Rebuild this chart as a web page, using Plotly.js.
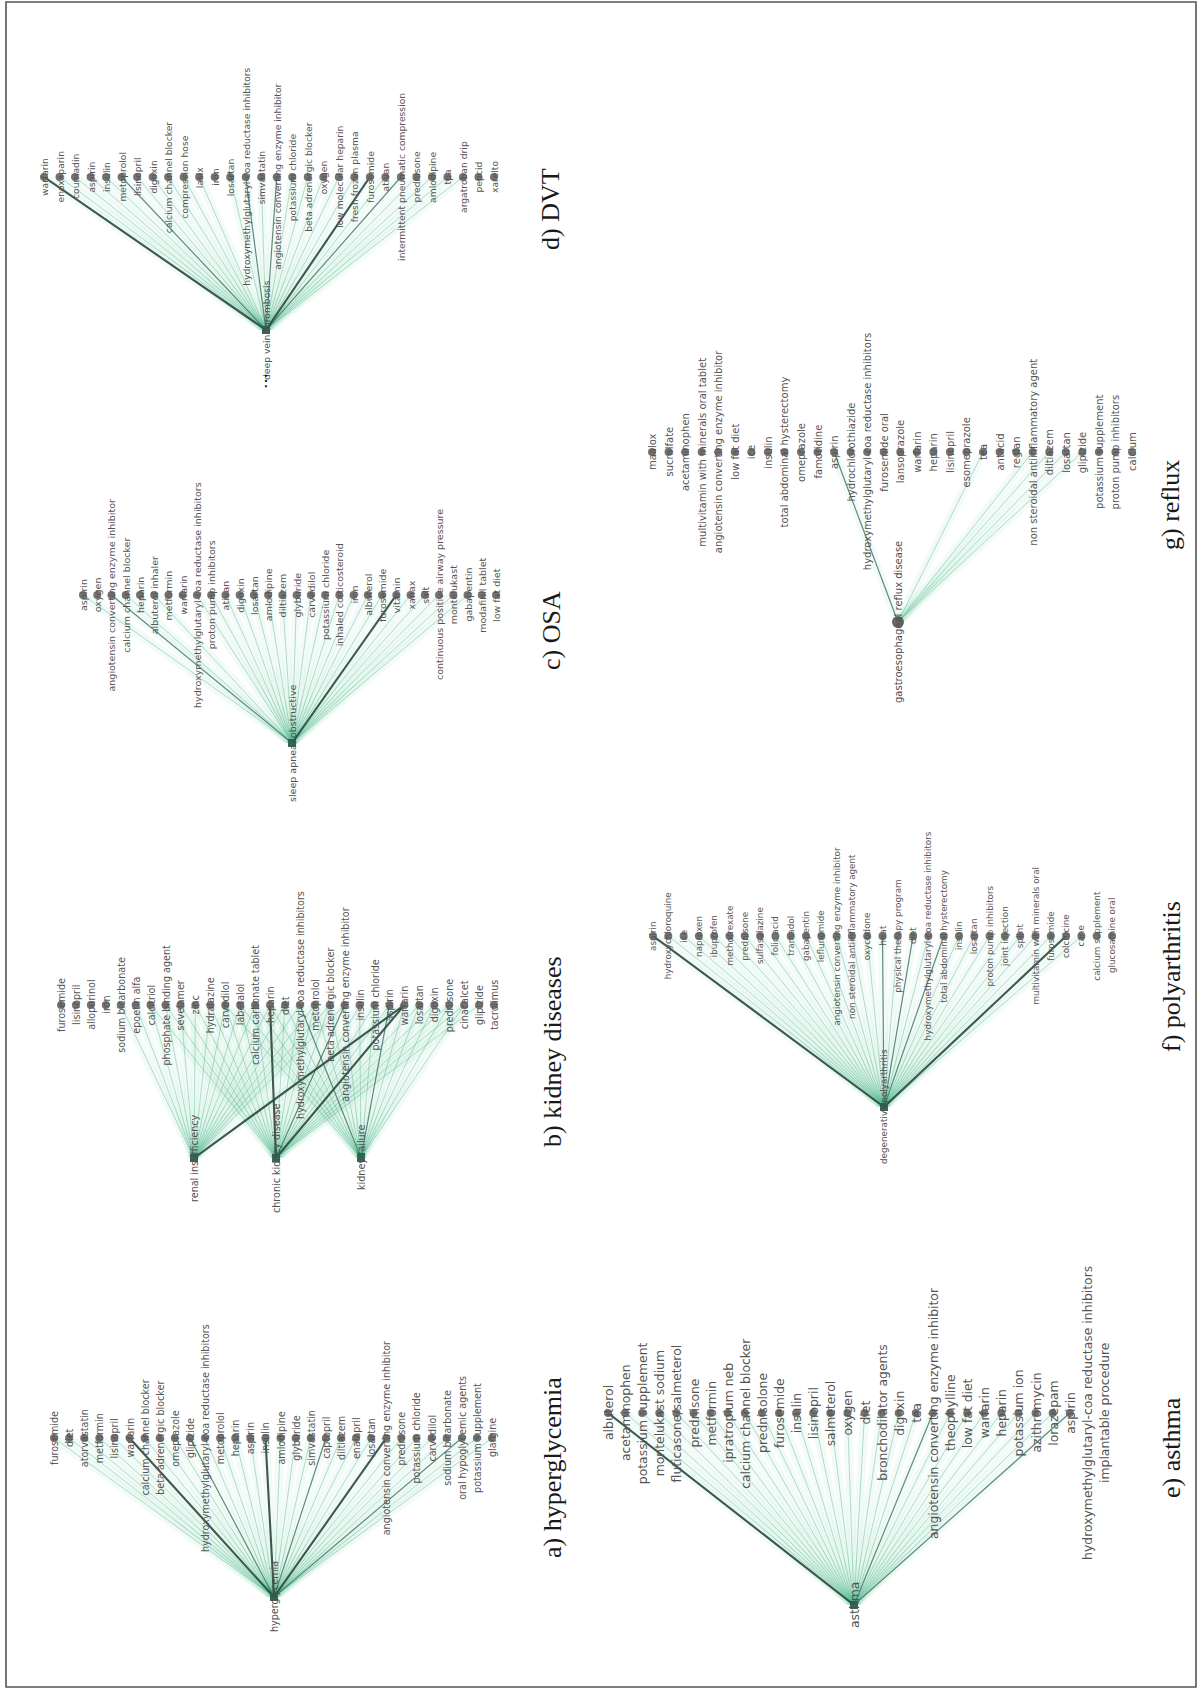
<!DOCTYPE html>
<html>
<head>
<meta charset="utf-8">
<script src="https://cdn.plot.ly/plotly-3.0.1.min.js"></script>
<style>
html,body{margin:0;padding:0;background:#fff;}
#chart{width:1202px;height:1691px;}
</style>
</head>
<body>
<div id="chart"></div>
<script>
// ---------------- DATA ----------------
const hyperHub = "hyperglycemia";
const hyperLabels = ["furosemide","diet","atorvastatin","metformin","lisinopril","warfarin","calcium channel blocker","beta adrenergic blocker","omeprazole","glipizide","hydroxymethylglutaryl-coa reductase inhibitors","metoprolol","heparin","aspirin","insulin","amlodipine","glyburide","simvastatin","captopril","diltiazem","enalapril","losartan","angiotensin converting enzyme inhibitor","prednisone","potassium chloride","carvedilol","sodium bicarbonate","oral hypoglycemic agents","potassium supplement","glargine"];
const hyperWeights = [1,1,1,1,1,3,1,1,1,2,1,1,1,1,3,1,1,1,2,1,1,1,3,1,1,1,1,2,1,1];

const kidneyHubs = ["renal insufficiency","chronic kidney disease","kidney failure"];
const kidneyLabels = ["furosemide","lisinopril","allopurinol","iron","sodium bicarbonate","epoetin alfa","calcitriol","phosphate binding agent","sevelamer","zinc","hydralazine","carvedilol","labetalol","calcium carbonate tablet","heparin","diet","hydroxymethylglutaryl-coa reductase inhibitors","metoprolol","beta adrenergic blocker","angiotensin converting enzyme inhibitor","insulin","potassium chloride","aspirin","warfarin","losartan","digoxin","prednisone","cinacalcet","glipizide","tacrolimus"];
const kidneyRenalWeights   = [0,0,0,0,1,1,1,1,1,1,1,1,1,1,1,1,1,1,1,1,0,0,0,3,0,0,0,0,0,0];
const kidneyChronicWeights = [0,0,0,0,0,0,1,1,1,1,1,1,1,1,3,1,1,1,1,2,1,1,1,3,1,1,1,1,1,0];
const kidneyFailureWeights = [0,0,0,0,0,0,0,0,0,0,0,1,1,1,1,1,2,1,1,1,1,1,2,1,1,1,1,1,0,0];

const osaHub = "sleep apnea, obstructive";
const osaLabels = ["aspirin","oxygen","angiotensin converting enzyme inhibitor","calcium channel blocker","heparin","albuterol inhaler","metformin","warfarin","hydroxymethylglutaryl-coa reductase inhibitors","proton pump inhibitors","ativan","digoxin","losartan","amlodipine","diltiazem","glyburide","carvedilol","potassium chloride","inhaled corticosteroid","iron","albuterol","furosemide","vitamin","xanax","salt","continuous positive airway pressure","montelukast","gabapentin","modafinil tablet","low fat diet"];
const osaWeights = [1,0,2,1,0,1,0,0,1,1,1,1,1,1,1,1,1,1,1,1,1,1,3,1,1,1,1,1,0,0];

const dvtHub = "deep vein thrombosis";
const dvtLabels = ["warfarin","enoxaparin","coumadin","aspirin","insulin","metoprolol","lisinopril","digoxin","calcium channel blocker","compression hose","lasix","iron","losartan","hydroxymethylglutaryl-coa reductase inhibitors","simvastatin","angiotensin converting enzyme inhibitor","potassium chloride","beta adrenergic blocker","oxygen","low molecular heparin","fresh frozen plasma","furosemide","ativan","intermittent pneumatic compression","prednisone","amlodipine","tpa","argatroban drip","pepcid","xarelto"];
const dvtWeights = [3,1,1,1,1,2,1,1,1,1,1,0,1,2,1,2,1,1,1,1,1,3,1,2,1,1,1,1,0,0];

const asthmaHub = "asthma";
const asthmaLabels = ["albuterol","acetaminophen","potassium supplement","montelukast sodium","fluticasone/salmeterol","prednisone","metformin","ipratropium neb","calcium channel blocker","prednisolone","furosemide","insulin","lisinopril","salmeterol","oxygen","diet","bronchodilator agents","digoxin","tea","angiotensin converting enzyme inhibitor","theophylline","low fat diet","warfarin","heparin","potassium ion","azithromycin","lorazepam","aspirin","hydroxymethylglutaryl-coa reductase inhibitors","implantable procedure"];
const asthmaWeights = [3,1,1,1,1,1,1,1,1,1,1,1,1,1,1,1,1,1,1,2,1,1,1,1,1,1,1,2,null,null];

const polyHub = "degenerative polyarthritis";
const polyLabels = ["aspirin","hydroxychloroquine","ice","naproxen","ibuprofen","methotrexate","prednisone","sulfasalazine","folic acid","tramadol","gabapentin","leflunomide","angiotensin converting enzyme inhibitor","non steroidal antiinflammatory agent","oxycodone","heat","physical therapy program","diet","hydroxymethylglutaryl-coa reductase inhibitors","total abdominal hysterectomy","insulin","losartan","proton pump inhibitors","joint injection","splint","multivitamin with minerals oral","furosemide","colchicine","cane","calcium supplement","glucosamine oral"];
const polyWeights = [3,1,1,1,1,1,1,1,1,1,1,1,1,1,1,2,1,2,1,2,1,1,1,1,1,1,1,3,1,0,0];

const refluxHub = "gastroesophageal reflux disease";
const refluxLabels = ["maalox","sucralfate","acetaminophen","multivitamin with minerals oral tablet","angiotensin converting enzyme inhibitor","low fat diet","ice","insulin","total abdominal hysterectomy","omeprazole","famotidine","aspirin","hydrochlorothiazide","hydroxymethylglutaryl-coa reductase inhibitors","furosemide oral","lansoprazole","warfarin","heparin","lisinopril","esomeprazole","tea","antacid","reglan","non steroidal antiinflammatory agent","diltiazem","losartan","glipizide","potassium supplement","proton pump inhibitors","calcium"];
const refluxWeights = [0,0,0,0,0,0,0,0,0,0,0,2,0,0,0,0,0,0,0,0,1,0,0,1,1,1,1,0,0,0];

const captionTexts = ["a) hyperglycemia","b) kidney diseases","c) OSA","d) DVT","e) asthma","f) polyarthritis","g) reflux"];

// ---------------- LAYOUT (positions, pixels) ----------------
const W = 1202, H = 1691;
const panels = [
  {labels: hyperLabels, hubs:[{name:hyperHub, x:274, w:hyperWeights}], x0:54, x1:492, rowY:1438, hubY:1597, font:9.6, cap:{x:552, y:1468}},
  {labels: kidneyLabels, hubs:[{name:kidneyHubs[0], x:194, w:kidneyRenalWeights},{name:kidneyHubs[1], x:276, w:kidneyChronicWeights},{name:kidneyHubs[2], x:361, w:kidneyFailureWeights}], x0:61, x1:494, rowY:1005, hubY:1158, font:9.6, cap:{x:552, y:1052}},
  {labels: osaLabels, hubs:[{name:osaHub, x:292, w:osaWeights}], x0:83, x1:496, rowY:595, hubY:743, font:9.5, cap:{x:551, y:631}},
  {labels: dvtLabels, hubs:[{name:dvtHub, x:266, w:dvtWeights}], x0:44, x1:494, rowY:177, hubY:330, font:9.2, cap:{x:551, y:209}, mark:true},
  {labels: asthmaLabels, hubs:[{name:asthmaHub, x:854, w:asthmaWeights}], x0:608, x1:1104, rowY:1413, hubY:1605, font:12.4, cap:{x:1171, y:1448}},
  {labels: polyLabels, hubs:[{name:polyHub, x:884, w:polyWeights}], x0:653, x1:1112, rowY:936, hubY:1107, font:8.8, cap:{x:1171, y:977}},
  {labels: refluxLabels, hubs:[{name:refluxHub, x:898, w:refluxWeights}], x0:652, x1:1132, rowY:452, hubY:622, font:10, cap:{x:1170, y:505}, bigHub:true}
];

const edgeStyles = {
  glow:  {color:'rgba(100,205,165,0.085)', width:9},
  1:     {color:'rgba(75,170,135,0.5)', width:0.8},
  2:     {color:'rgba(55,105,90,0.78)', width:1.2},
  3:     {color:'rgba(42,70,62,0.9)', width:2.1}
};

const traces = [];
const annotations = [];
const layout = {
  width: W, height: H,
  margin: {l:0, r:0, t:0, b:0},
  paper_bgcolor: '#ffffff', plot_bgcolor: 'rgba(0,0,0,0)',
  showlegend: false,
  shapes: [{type:'rect', xref:'paper', yref:'paper', x0:6/W, x1:1196/W, y0:1-1687/H, y1:1-2/H, line:{color:'#555555', width:1.6}}],
  annotations: annotations
};

panels.forEach((p, k) => {
  const sfx = k === 0 ? '' : String(k+1);
  const xa = 'x' + sfx, ya = 'y' + sfx;
  const N = p.labels.length;
  layout['xaxis' + sfx] = {domain:[p.x0/W, p.x1/W], range:[0, N-1], visible:false, fixedrange:true, anchor: ya};
  layout['yaxis' + sfx] = {domain:[(H-p.hubY)/H, (H-p.rowY)/H], range:[0, 1], visible:false, fixedrange:true, anchor: xa};

  const hubIdx = p.hubs.map(h => (h.x - p.x0) / (p.x1 - p.x0) * (N-1));
  const cls = {glow:{x:[],y:[]}, 1:{x:[],y:[]}, 2:{x:[],y:[]}, 3:{x:[],y:[]}};
  p.hubs.forEach((h, j) => {
    h.w.forEach((w, i) => {
      if (w) {
        cls.glow.x.push(hubIdx[j], i, null); cls.glow.y.push(0, 1, null);
        cls[w].x.push(hubIdx[j], i, null); cls[w].y.push(0, 1, null);
      }
    });
  });
  ['glow', 1, 2, 3].forEach(c => {
    traces.push({type:'scatter', mode:'lines', x:cls[c].x, y:cls[c].y, xaxis:xa, yaxis:ya,
      line:edgeStyles[c], hoverinfo:'skip', cliponaxis:false});
  });

  const nx = [], ny = [];
  for (let i = 0; i < N; i++) {
    const exists = p.hubs.some(h => h.w[i] !== null);
    if (exists) { nx.push(i); ny.push(1); }
  }
  traces.push({type:'scatter', mode:'markers', x:nx, y:ny, xaxis:xa, yaxis:ya,
    marker:{size:8, color:'rgba(100,100,100,0.9)'}, hoverinfo:'skip', cliponaxis:false});

  traces.push({type:'scatter', mode:'markers', x:hubIdx, y:hubIdx.map(() => 0), xaxis:xa, yaxis:ya,
    marker: p.bigHub ? {size:12, color:'rgba(95,95,95,0.95)'} : {size:8, color:'rgba(45,95,78,0.95)', symbol:'square'},
    hoverinfo:'skip', cliponaxis:false});

  p.labels.forEach((t, i) => {
    annotations.push({xref:xa, yref:ya, x:i, y:1, text:t, textangle:-90, showarrow:false,
      xanchor:'center', yanchor:'middle',
      font:{family:'DejaVu Sans, Arial, sans-serif', size:p.font, color:'#555555'}});
  });
  p.hubs.forEach((h, j) => {
    annotations.push({xref:xa, yref:ya, x:hubIdx[j], y:0, text:h.name, textangle:-90, showarrow:false,
      xanchor:'center', yanchor:'middle',
      font:{family:'DejaVu Sans, Arial, sans-serif', size:p.font, color:'#505050'}});
  });
  if (p.mark) {
    annotations.push({xref:xa, yref:ya, x:hubIdx[0], y:0, text:'⋮', showarrow:false, yshift:-50,
      xanchor:'center', yanchor:'middle', font:{family:'DejaVu Sans', size:16, color:'#000'}});
  }
  annotations.push({xref:'paper', yref:'paper', x:p.cap.x/W, y:1-p.cap.y/H, text:captionTexts[k],
    textangle:-90, showarrow:false, xanchor:'center', yanchor:'middle',
    font:{family:'Liberation Serif, Times New Roman, serif', size:26, color:'#1a1a1a'}});
});

Plotly.newPlot('chart', traces, layout, {staticPlot:true, displayModeBar:false});
</script>
</body>
</html>
